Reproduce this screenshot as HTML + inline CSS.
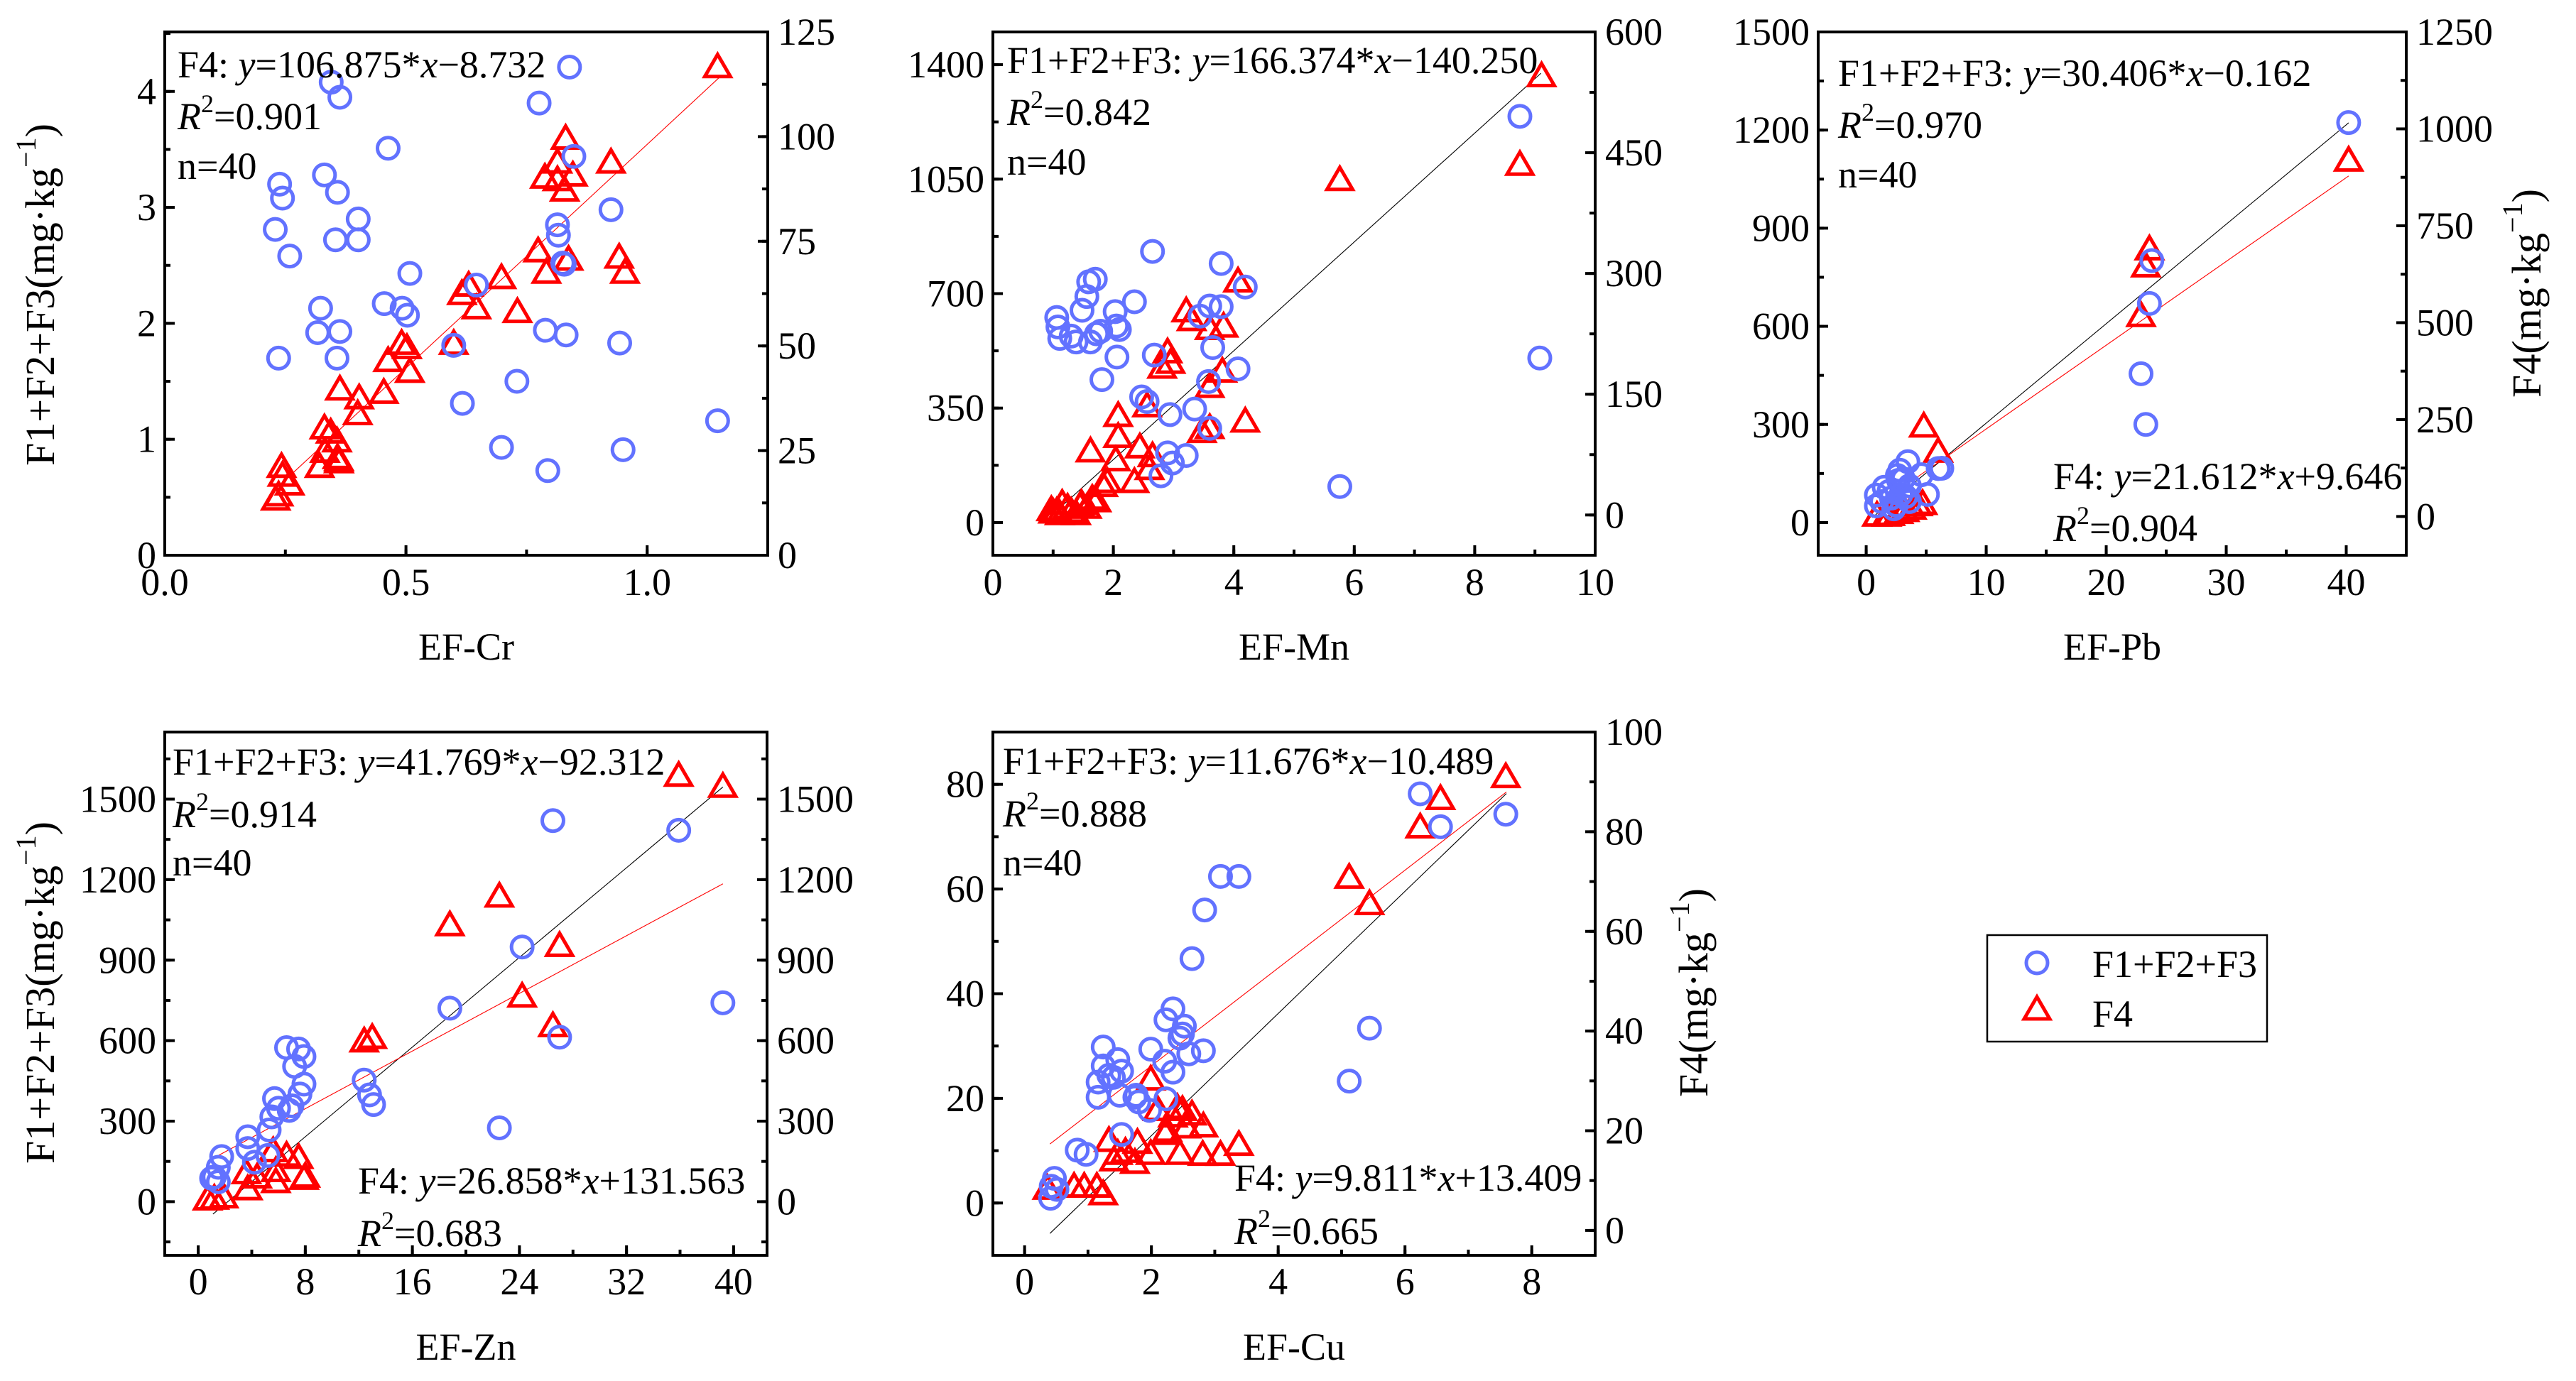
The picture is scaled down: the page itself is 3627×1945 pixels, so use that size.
<!DOCTYPE html>
<html><head><meta charset="utf-8"><title>EF vs fractions</title>
<style>html,body{margin:0;padding:0;background:#fff;}svg{display:block;}text{font-family:"Liberation Serif","Times New Roman",serif;fill:#000;}</style>
</head><body>
<svg id="chart" width="3627" height="1945" viewBox="0 0 3627 1945" xmlns="http://www.w3.org/2000/svg"></svg>
<script>
// ---------- Data ----------
const crCircX=[0.839,0.345,0.363,0.776,0.463,0.848,0.238,0.331,0.244,0.358,0.925,0.401,0.229,0.354,0.401,0.814,0.816,0.825,0.259,0.508,0.646,0.455,0.492,0.503,0.323,0.317,0.363,0.789,0.832,0.943,0.599,0.236,0.357,0.730,0.617,1.146,0.698,0.950,0.794,0.828];
const crCircY=[4.21,4.08,3.95,3.90,3.51,3.44,3.20,3.28,3.08,3.13,2.98,2.90,2.81,2.72,2.72,2.85,2.76,2.52,2.58,2.43,2.33,2.17,2.13,2.07,2.13,1.92,1.93,1.94,1.90,1.83,1.81,1.70,1.70,1.50,1.31,1.16,0.93,0.91,0.73,2.51];
const crTriX=[1.146,0.831,0.814,0.925,0.788,0.846,0.814,0.829,0.774,0.837,0.942,0.791,0.954,0.698,0.630,0.616,0.646,0.731,0.599,0.491,0.502,0.463,0.508,0.454,0.363,0.403,0.400,0.331,0.344,0.357,0.332,0.321,0.358,0.361,0.242,0.244,0.259,0.230,0.236,0.361];
const crTriY=[116.4,99.3,93.6,93.6,90.0,90.5,89.4,86.9,72.4,70.4,70.9,67.3,67.3,66.0,64.2,62.2,58.8,57.9,50.3,50.3,49.3,46.2,43.6,38.6,39.4,37.3,33.5,30.1,29.1,27.0,24.5,20.9,23.0,22.0,20.9,18.8,16.7,13.1,14.1,22.5];

const mnCircX=[8.75,5.76,9.08,2.65,3.79,4.19,1.70,1.59,1.56,2.35,2.03,1.48,1.06,1.08,1.11,1.38,1.62,1.79,1.72,2.05,3.44,3.60,3.79,3.65,2.68,2.06,4.07,1.81,3.58,2.47,2.56,2.94,3.35,3.60,2.90,2.98,3.21,2.79,1.30,2.10];
const mnCircY=[1242,110,503,829,792,720,744,736,691,675,645,649,627,598,563,552,552,585,577,601,631,662,660,535,512,506,470,437,431,384,370,330,347,288,213,182,205,143,570,590];
const mnTriX=[9.11,8.75,5.76,4.07,3.21,3.30,3.60,3.83,2.90,2.95,2.81,3.81,3.60,2.56,2.08,2.08,4.19,3.47,3.60,1.62,2.44,2.04,2.65,2.60,2.35,1.83,1.72,1.47,1.56,1.24,1.15,1.06,1.11,1.38,1.65,0.97,1.00,1.30,1.45,1.90];
const mnTriY=[544,434,415,289,252,241,230,233,201,188,182,177,158,134,122,96,115,102,107,78,83,67,72,56,40,35,16,13,8,8,13,3,0,0,19,5,2,3,10,40];

const pbCircX=[40.2,23.8,23.6,22.9,23.3,6.0,3.47,2.8,2.6,3.1,4.6,3.6,5.1,1.9,0.85,0.85,2.1,3.3,2.5,1.5,2.9,2.7,3.6,1.3,2.3,6.3];
const pbCircY=[1223,801,670,455,300,165,186,160,144,133,146,112,86,95,84,51,75,79,53,108,86,129,64,64,42,166];
const pbTriX=[40.2,23.6,23.3,22.9,4.8,6.0,0.9,1.7,2.7,3.8,4.3,3.2,2.0,4.7];
const pbTriY=[916,687,643,515,230,165,0,0,7,18,27,12,2,30];

const znCircX=[26.5,35.9,24.2,18.8,39.2,27.0,22.5,12.4,12.8,13.1,6.6,7.5,7.9,7.2,7.9,7.6,6.8,5.7,6.0,5.5,5.3,3.7,3.7,4.2,5.2,1.75,1.5,1.2,1.0,1.5,7.0];
const znCircY=[1420,1384,949,721,741,613,275,453,398,362,574,569,541,504,438,401,340,384,348,316,267,242,198,147,172,168,128,92,87,74,357];
const znTriX=[35.9,39.2,22.5,18.8,27.0,24.2,26.5,12.4,13.0,6.6,7.5,7.9,8.0,5.8,5.6,3.6,3.7,4.4,5.8,1.9,1.2,0.7];
const znTriY=[1584,1543,1134,1027,950,761,651,594,607,168,160,82,90,70,185,103,43,87,111,13,8,5];

const cuCircX=[6.24,7.59,6.56,3.09,3.38,2.84,2.64,5.44,5.12,2.34,2.23,2.52,2.49,1.24,1.99,2.82,2.59,1.47,2.21,1.24,1.53,2.34,1.33,1.16,1.50,1.16,1.74,2.23,1.80,1.97,1.53,0.83,0.97,0.47,0.42,0.41,0.51,2.45,1.40,1.76];
const cuCircY=[78.2,74.3,71.9,62.4,62.4,56.0,46.7,33.4,23.3,37.1,35.0,33.8,32.3,29.8,29.4,29.1,28.5,27.4,27.1,26.2,25.2,25.0,24.4,23.1,20.6,20.2,20.2,19.9,19.3,17.7,13.1,10.1,9.3,4.7,3.2,0.9,2.6,31.5,24.0,20.6];
const cuTriX=[7.59,6.56,6.24,5.12,5.44,1.99,2.10,2.41,2.49,2.64,2.34,2.25,2.55,2.82,2.22,1.33,1.78,3.38,1.47,1.99,2.45,2.81,3.09,1.41,1.74,0.78,0.94,1.14,1.24,0.36,1.59];
const cuTriY=[90.8,86.4,80.7,70.6,65.3,30.1,24.0,24.4,24.0,23.1,22.7,19.8,20.5,20.7,19.2,17.8,17.4,17.0,15.2,15.2,15.2,15.0,15.0,13.9,13.4,8.6,8.6,8.6,7.1,8.2,15.6];

// fit lines: [slope, intercept, xStart, xEnd]
const crFitF4=[106.875,-8.732,0.23,1.15];
const mnFitF123=[166.374,-140.250,1.1,9.1];
const pbFitF123=[30.406,-0.162,0.5,40.2];
const pbFitF4=[21.612,9.646,0.5,40.2];
const znFitF123=[41.769,-92.312,1.1,39.2];
const znFitF4=[26.858,131.563,1.0,39.2];
const cuFitF123=[11.676,-10.489,0.4,7.6];
const cuFitF4=[9.811,13.409,0.4,7.6];

// tick labels
const crXTicks=[0,0.5,1.0], crXLabels=["0.0","0.5","1.0"];
const crYLTicks=[0,1,2,3,4], crYRTicks=[0,25,50,75,100,125];
const mnXTicks=[0,2,4,6,8,10], mnYLTicks=[0,350,700,1050,1400], mnYRTicks=[0,150,300,450,600];
const pbXTicks=[0,10,20,30,40], pbYLTicks=[0,300,600,900,1200,1500], pbYRTicks=[0,250,500,750,1000,1250];
const znXTicks=[0,8,16,24,32,40], znYLTicks=[0,300,600,900,1200,1500], znYRTicks=[0,300,600,900,1200,1500];
const cuXTicks=[0,2,4,6,8], cuYLTicks=[0,20,40,60,80], cuYRTicks=[0,20,40,60,80,100];

// ---------- Drawing ----------
const NS="http://www.w3.org/2000/svg";
const svg=document.getElementById('chart');
const BLUE="#6272ff", RED="#ff0000";
function mk(tag,attrs,parent){const e=document.createElementNS(NS,tag);for(const k in attrs)e.setAttribute(k,attrs[k]);(parent||svg).appendChild(e);return e;}

function panel(cfg){
  const g=mk('g',{});
  
  
  const {L,R,T,B}=cfg;
  const sx=v=>L+(v-cfg.x[0])/(cfg.x[1]-cfg.x[0])*(R-L);
  const syL=v=>B-(v-cfg.yl[0])/(cfg.yl[1]-cfg.yl[0])*(B-T);
  const syR=v=>B-(v-cfg.yr[0])/(cfg.yr[1]-cfg.yr[0])*(B-T);
  const clip=mk('clipPath',{id:'clip-'+cfg.name},g);
  mk('rect',{x:L,y:T,width:R-L,height:B-T},clip);
  const plot=mk('g',{'clip-path':'url(#clip-'+cfg.name+')'},g);
  cfg.fits.forEach(f=>{
    const p=f.d, ys=f.axis==='L'?syL:syR;
    const ln=mk('line',{x1:sx(p[2]),y1:ys(p[0]*p[2]+p[1]),x2:sx(p[3]),y2:ys(p[0]*p[3]+p[1]),stroke:f.color,'stroke-width':1.1},plot);
    
    
  });
  cfg.tx.forEach((xv,i)=>{
    const cx=sx(xv), cy=syR(cfg.ty[i]);
    const t=mk('path',{d:`M${cx},${cy-19} L${cx+18},${cy+12} L${cx-18},${cy+12} Z`,fill:'none',stroke:RED,'stroke-width':5,'stroke-linejoin':'miter'},plot);
    
    
  });
  cfg.cx.forEach((xv,i)=>{
    const c=mk('circle',{cx:sx(xv),cy:syL(cfg.cy[i]),r:15,fill:'none',stroke:BLUE,'stroke-width':5},plot);
    
    
  });
  const fr=mk('rect',{x:L,y:T,width:R-L,height:B-T,fill:'none',stroke:'#000','stroke-width':4},g);
  
  
  const tk=(x1,y1,x2,y2)=>mk('line',{x1,y1,x2,y2,stroke:'#000','stroke-width':4},g);
  cfg.xt.forEach((v,i)=>{
    const X=sx(v); tk(X,B,X,B-14);
    const t=mk('text',{x:X,y:cfg.xLabY,'font-size':54,'text-anchor':'middle'},g);
    t.textContent=cfg.xl?cfg.xl[i]:String(v);
    
    
  });
  for(let v=cfg.xt[0]-cfg.xm*20;v<=cfg.x[1];v+=cfg.xm){ if(v<cfg.x[0])continue; const X=sx(v); tk(X,B,X,B-8);}
  cfg.ylt.forEach(v=>{
    const Y=syL(v); tk(L,Y,L+14,Y);
    const t=mk('text',{x:L-12,y:Y+18,'font-size':54,'text-anchor':'end'},g);
    t.textContent=String(v);
    
    
  });
  for(let v=cfg.ylt[0]-cfg.ylm*20;v<=cfg.yl[1];v+=cfg.ylm){ if(v<cfg.yl[0])continue; const Y=syL(v); tk(L,Y,L+8,Y);}
  cfg.yrt.forEach(v=>{
    const Y=syR(v); tk(R,Y,R-14,Y);
    const t=mk('text',{x:R+14,y:Y+18,'font-size':54,'text-anchor':'start'},g);
    t.textContent=String(v);
    
    
  });
  for(let v=cfg.yrt[0]-cfg.yrm*20;v<=cfg.yr[1];v+=cfg.yrm){ if(v<cfg.yr[0])continue; const Y=syR(v); tk(R,Y,R-8,Y);}
  const xt=mk('text',{x:(L+R)/2,y:cfg.xTitleY,'font-size':54,'text-anchor':'middle'},g);
  xt.textContent=cfg.xTitle;
  
  
}

function eqText(x,y,label,slope,icpt,name){
  const t=mk('text',{x:x,y:y,'font-size':54});
  
  
  t.innerHTML=`${label}: <tspan font-style="italic">y</tspan>=${slope}*<tspan font-style="italic">x</tspan>${icpt}`;
}
function r2Text(x,y,val,name){
  const t=mk('text',{x:x,y:y,'font-size':54});
  
  
  t.innerHTML=`<tspan font-style="italic">R</tspan><tspan font-size="36" dy="-24">2</tspan><tspan dy="24">=${val}</tspan>`;
}
function nText(x,y,name){
  const t=mk('text',{x:x,y:y,'font-size':54});
  
  
  t.textContent='n=40';
}
function yTitle(x,y,label,name){
  const t=mk('text',{x:0,y:0,'font-size':58,'text-anchor':'middle',transform:`translate(${x},${y}) rotate(-90)`});
  
  
  t.innerHTML=`${label}(mg·kg<tspan font-size="40" dy="-26">−1</tspan><tspan dy="26">)</tspan>`;
}

panel({name:'cr',L:232,R:1081,T:45,B:782,x:[0,1.25],yl:[0,4.513],yr:[0,125],
  xt:crXTicks,xl:crXLabels,xm:0.25,ylt:crYLTicks,ylm:0.5,yrt:crYRTicks,yrm:12.5,
  cx:crCircX,cy:crCircY,tx:crTriX,ty:crTriY,fits:[{d:crFitF4,axis:'R',color:RED,tag:'f4'}],
  xLabY:838,xTitleY:929,xTitle:'EF-Cr'});
panel({name:'mn',L:1398,R:2246,T:45,B:782,x:[0,10],yl:[-100,1500],yr:[-50,600],
  xt:mnXTicks,xm:1,ylt:mnYLTicks,ylm:175,yrt:mnYRTicks,yrm:75,
  cx:mnCircX,cy:mnCircY,tx:mnTriX,ty:mnTriY,fits:[{d:mnFitF123,axis:'L',color:'#000',tag:'f123'}],
  xLabY:838,xTitleY:929,xTitle:'EF-Mn'});
panel({name:'pb',L:2560,R:3388,T:45,B:782,x:[-4,45],yl:[-100,1500],yr:[-100,1250],
  xt:pbXTicks,xm:5,ylt:pbYLTicks,ylm:150,yrt:pbYRTicks,yrm:125,
  cx:pbCircX,cy:pbCircY,tx:pbTriX,ty:pbTriY,fits:[{d:pbFitF123,axis:'L',color:'#000',tag:'f123'},{d:pbFitF4,axis:'R',color:RED,tag:'f4'}],
  xLabY:838,xTitleY:929,xTitle:'EF-Pb'});
panel({name:'zn',L:232,R:1080,T:1031,B:1768,x:[-2.5,42.5],yl:[-200,1750],yr:[-200,1750],
  xt:znXTicks,xm:4,ylt:znYLTicks,ylm:150,yrt:znYRTicks,yrm:150,
  cx:znCircX,cy:znCircY,tx:znTriX,ty:znTriY,fits:[{d:znFitF123,axis:'L',color:'#000',tag:'f123'},{d:znFitF4,axis:'R',color:RED,tag:'f4'}],
  xLabY:1823,xTitleY:1915,xTitle:'EF-Zn'});
panel({name:'cu',L:1398,R:2246,T:1031,B:1768,x:[-0.5,9],yl:[-10,90],yr:[-5,100],
  xt:cuXTicks,xm:1,ylt:cuYLTicks,ylm:10,yrt:cuYRTicks,yrm:10,
  cx:cuCircX,cy:cuCircY,tx:cuTriX,ty:cuTriY,fits:[{d:cuFitF123,axis:'L',color:'#000',tag:'f123'},{d:cuFitF4,axis:'R',color:RED,tag:'f4'}],
  xLabY:1823,xTitleY:1915,xTitle:'EF-Cu'});

eqText(250,109,'F4','106.875','−8.732','cr-equation');
r2Text(250,182,'0.901','cr-r2'); nText(250,252,'cr-n');
eqText(1418,103,'F1+F2+F3','166.374','−140.250','mn-equation');
r2Text(1418,176,'0.842','mn-r2'); nText(1418,246,'mn-n');
eqText(2588,121,'F1+F2+F3','30.406','−0.162','pb-equation-f123');
r2Text(2588,194,'0.970','pb-r2-f123'); nText(2588,264,'pb-n');
eqText(2891,689,'F4','21.612','+9.646','pb-equation-f4');
r2Text(2891,762,'0.904','pb-r2-f4');
eqText(243,1091,'F1+F2+F3','41.769','−92.312','zn-equation-f123');
r2Text(243,1165,'0.914','zn-r2-f123'); nText(243,1233,'zn-n');
eqText(504,1681,'F4','26.858','+131.563','zn-equation-f4');
r2Text(504,1755,'0.683','zn-r2-f4');
eqText(1412,1090,'F1+F2+F3','11.676','−10.489','cu-equation-f123');
r2Text(1412,1164,'0.888','cu-r2-f123'); nText(1412,1233,'cu-n');
eqText(1738,1677,'F4','9.811','+13.409','cu-equation-f4');
r2Text(1738,1752,'0.665','cu-r2-f4');

yTitle(76,415,'F1+F2+F3','cr-y-axis-title');
yTitle(76,1398,'F1+F2+F3','zn-y-axis-title');
yTitle(3577,413,'F4','pb-y-right-axis-title');
yTitle(2404,1398,'F4','cu-y-right-axis-title');

const lg=mk('g',{});


mk('rect',{x:2798,y:1317,width:394,height:150,fill:'#fff',stroke:'#000','stroke-width':2.5},lg);
const lc=mk('circle',{cx:2868,cy:1356,r:15,fill:'none',stroke:BLUE,'stroke-width':5},lg);


const lt=mk('path',{d:'M2868,1404 L2886,1435 L2850,1435 Z',fill:'none',stroke:RED,'stroke-width':5},lg);


const l1=mk('text',{x:2946,y:1376,'font-size':54},lg); l1.textContent='F1+F2+F3';


const l2=mk('text',{x:2946,y:1446,'font-size':54},lg); l2.textContent='F4';


</script>
</body></html>
